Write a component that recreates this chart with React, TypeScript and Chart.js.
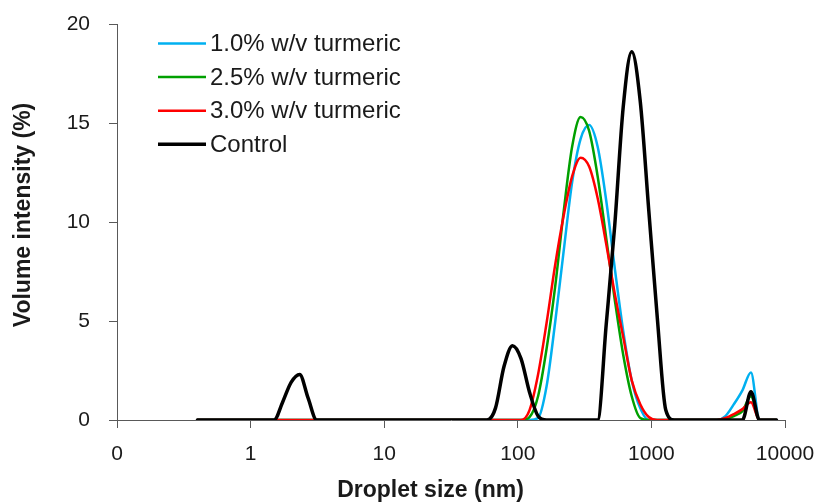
import { useEffect, useRef } from 'react';
import { Chart, registerables, type Plugin } from 'chart.js';

Chart.register(...registerables);

// droplet size bins (nm), as measured
const sizes = [
  0.4, 0.4632, 0.5365, 0.6213, 0.7195, 0.8332, 0.9649, 1.117, 1.294, 1.499,
  1.736, 2.01, 2.328, 2.696, 3.122, 3.615, 4.187, 4.849, 5.615, 6.503,
  7.531, 8.721, 10.1, 11.7, 13.54, 15.69, 18.17, 21.04, 24.36, 28.21,
  32.67, 37.84, 43.82, 50.75, 58.77, 68.06, 78.82, 91.28, 105.7, 122.4,
  141.8, 164.2, 190.1, 220.2, 255, 295.3, 342, 396.1, 458.7, 531.2,
  615.1, 712.4, 825, 955.4, 1106, 1281, 1484, 1718, 1990, 2305,
  2669, 3091, 3580, 4145, 4801, 5560, 6439, 7456, 8635,
];

const turmeric10 = [
  0, 0, 0, 0, 0, 0, 0, 0, 0, 0,
  0, 0, 0, 0, 0, 0, 0, 0, 0, 0,
  0, 0, 0, 0, 0, 0, 0, 0, 0, 0,
  0, 0, 0, 0, 0, 0, 0, 0, 0, 0,
  0.1, 1.7, 4.9, 8.5, 12.0, 14.2, 14.9, 13.8, 11.1, 7.7,
  4.5, 2.0, 0.6, 0, 0, 0, 0, 0, 0, 0,
  0, 0, 0.2, 0.8, 1.5, 2.4, 0, 0, 0,
];

const turmeric25 = [
  0, 0, 0, 0, 0, 0, 0, 0, 0, 0,
  0, 0, 0, 0, 0, 0, 0, 0, 0, 0,
  0, 0, 0, 0, 0, 0, 0, 0, 0, 0,
  0, 0, 0, 0, 0, 0, 0, 0, 0, 0.15,
  1.2, 3.6, 6.7, 10.5, 13.8, 15.3, 14.6, 12.3, 9.2, 6.1,
  3.3, 1.2, 0.1, 0, 0, 0, 0, 0, 0, 0,
  0, 0, 0.05, 0.2, 0.45, 1.2, 0, 0, 0,
];

const turmeric30 = [
  0, 0, 0, 0, 0, 0, 0, 0, 0, 0,
  0, 0, 0, 0, 0, 0, 0, 0, 0, 0,
  0, 0, 0, 0, 0, 0, 0, 0, 0, 0,
  0, 0, 0, 0, 0, 0, 0, 0, 0, 0.5,
  2.3, 4.9, 7.8, 10.3, 12.3, 13.25, 12.8, 11.2, 8.9, 6.4,
  4.2, 2.0, 0.8, 0.15, 0, 0, 0, 0, 0, 0,
  0, 0, 0.1, 0.3, 0.55, 0.9, 0, 0, 0,
];

const control = [
  0, 0, 0, 0, 0, 0, 0, 0, 0, 0,
  0.9, 1.9, 2.3, 1.1, 0, 0, 0, 0, 0, 0,
  0, 0, 0, 0, 0, 0, 0, 0, 0, 0,
  0, 0, 0, 0, 0, 0.6, 2.7, 3.75, 3.1, 1.4,
  0.2, 0, 0, 0, 0, 0, 0, 0, 4.8, 9.8,
  15.8, 18.6, 16.1, 10.6, 5.2, 0.5, 0, 0, 0, 0,
  0, 0, 0, 0, 0, 1.43, 0, 0, 0,
];

const seriesLabels = ['1.0% w/v turmeric', '2.5% w/v turmeric', '3.0% w/v turmeric', 'Control'];
const seriesColors = ['#00B0F0', '#00A000', '#FF0000', '#000000'];
const seriesWidths = [2.5, 2.5, 2.5, 3.5];

const xTickValues = [0.1, 1, 10, 100, 1000, 10000];
const xTickLabels = ['0', '1', '10', '100', '1000', '10000'];
const xTitle = 'Droplet size (nm)';
const yTitle = 'Volume intensity (%)';

const FONT = "'Liberation Sans', Arial, sans-serif";
const AXIS = '#595959';
const TEXT = '#1a1a1a';

const toPoints = (values: number[]) => sizes.map((x, i) => ({ x, y: values[i] }));

const legendPlugin: Plugin = {
  id: 'insetLegend',
  afterDatasetsDraw(chart) {
    const { ctx, chartArea } = chart;
    ctx.save();
    ctx.font = `24px ${FONT}`;
    ctx.textAlign = 'left';
    ctx.textBaseline = 'middle';
    chart.data.datasets.forEach((ds, i) => {
      const y = chartArea.top + 19.5 + i * 33.6;
      const x0 = chartArea.left + 41;
      ctx.strokeStyle = ds.borderColor as string;
      ctx.lineWidth = seriesWidths[i];
      ctx.beginPath();
      ctx.moveTo(x0, y);
      ctx.lineTo(x0 + 48, y);
      ctx.stroke();
      ctx.fillStyle = TEXT;
      ctx.fillText(String(ds.label), x0 + 52, y + 1);
    });
    ctx.restore();
  },
};

const titlesPlugin: Plugin = {
  id: 'axisTitles',
  afterDraw(chart) {
    const { ctx, chartArea } = chart;
    ctx.save();
    ctx.font = `bold 23px ${FONT}`;
    ctx.fillStyle = TEXT;
    ctx.textAlign = 'center';
    ctx.textBaseline = 'alphabetic';
    ctx.fillText(xTitle, chartArea.left + 313.5, chart.height - 7);
    ctx.translate(29.5, chartArea.top + 191);
    ctx.rotate(-Math.PI / 2);
    ctx.fillText(yTitle, 0, 0);
    ctx.restore();
  },
};

export default function App() {
  const canvasRef = useRef<HTMLCanvasElement>(null);

  useEffect(() => {
    const canvas = canvasRef.current;
    if (!canvas) return;
    const seriesValues = [turmeric10, turmeric25, turmeric30, control];

    const chart = new Chart(canvas, {
      type: 'line',
      data: {
        datasets: seriesValues.map((values, i) => ({
          label: seriesLabels[i],
          data: toPoints(values),
          borderColor: seriesColors[i],
          backgroundColor: seriesColors[i],
          borderWidth: seriesWidths[i],
          pointRadius: 0,
          fill: false,
          cubicInterpolationMode: 'monotone' as const,
          borderCapStyle: 'round' as const,
          borderJoinStyle: 'round' as const,
          order: seriesValues.length - i,
        })),
      },
      options: {
        responsive: true,
        maintainAspectRatio: false,
        animation: false,
        layout: { padding: { top: 24, right: 34, left: 0, bottom: 0 } },
        plugins: {
          legend: { display: false },
          tooltip: { enabled: false },
        },
        scales: {
          x: {
            type: 'logarithmic',
            min: 0.1,
            max: 10000,
            afterBuildTicks: (scale) => {
              scale.ticks = xTickValues.map((value) => ({ value }));
            },
            afterFit: (scale) => {
              scale.height = 84;
              scale.paddingLeft = 0;
              scale.paddingRight = 0;
            },
            ticks: {
              autoSkip: false,
              maxRotation: 0,
              padding: 14,
              color: TEXT,
              font: { family: FONT, size: 21 },
              callback: (_v, index) => xTickLabels[index],
            },
            grid: { drawOnChartArea: false, drawTicks: true, tickLength: 8, color: AXIS },
            border: { display: true, color: AXIS, width: 1 },
          },
          y: {
            type: 'linear',
            min: 0,
            max: 20,
            afterFit: (scale) => {
              scale.width = 117;
              scale.paddingTop = 0;
              scale.paddingBottom = 0;
            },
            ticks: {
              stepSize: 5,
              padding: 19,
              color: TEXT,
              font: { family: FONT, size: 21 },
            },
            grid: { drawOnChartArea: false, drawTicks: true, tickLength: 8, color: AXIS },
            border: { display: true, color: AXIS, width: 1 },
          },
        },
      },
      plugins: [legendPlugin, titlesPlugin],
    });

    return () => chart.destroy();
  }, []);

  return (
    <div style={{ position: 'absolute', left: 0, top: 0, width: 819, height: 504, background: '#fff' }}>
      <canvas ref={canvasRef} />
    </div>
  );
}
